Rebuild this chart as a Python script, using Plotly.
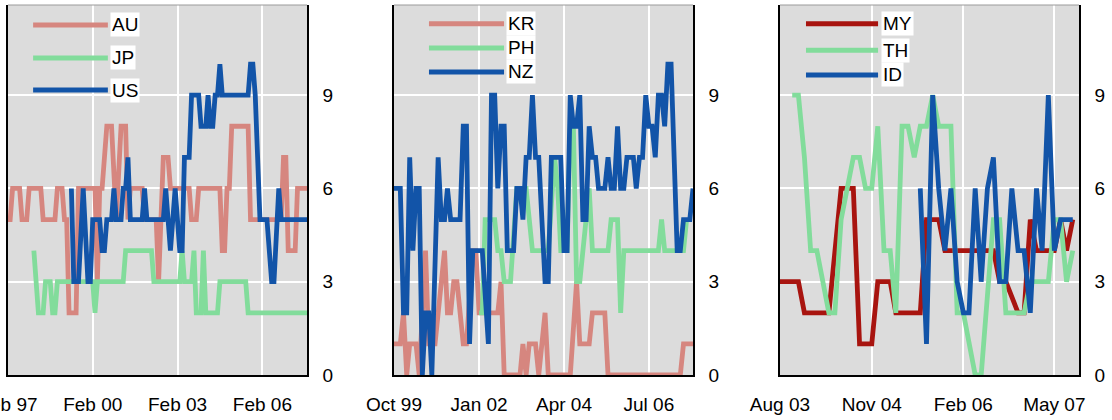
import plotly.graph_objects as go

# ---------------- Panel 1 ----------------
au_dates = ["1997-02", "1997-03", "1997-04", "1997-07", "1997-08", "1997-10", "1997-11", "1998-04", "1998-05", "1998-10",
            "1998-11", "1999-01", "1999-02", "1999-03", "1999-04", "1999-07", "1999-08", "2000-03", "2000-04", "2000-05",
            "2000-06", "2000-08", "2000-10", "2000-12", "2001-02", "2001-04", "2001-05", "2001-06", "2001-11", "2001-12",
            "2002-05", "2002-06", "2002-08", "2002-10", "2002-11", "2003-07", "2003-08", "2003-10", "2003-11", "2004-08",
            "2004-09", "2004-10", "2004-11", "2004-12", "2005-01", "2005-08", "2005-09", "2006-10", "2006-11", "2006-12",
            "2007-01", "2007-04", "2007-05", "2007-09"]
au_vals = [5, 5, 6, 6, 5, 5, 6, 6, 5, 5,
           6, 6, 5, 5, 2, 2, 6, 6, 3, 6,
           6, 8, 8, 5, 8, 8, 5, 6, 6, 5,
           5, 3, 7, 7, 6, 6, 5, 5, 6, 6,
           4, 4, 6, 6, 8, 8, 5, 5, 7, 7,
           4, 4, 6, 6]

jp_dates = ["1998-01", "1998-02", "1998-03", "1998-05", "1998-06", "1998-08", "1998-09", "1998-10", "1998-11", "2000-02",
            "2000-03", "2000-04", "2001-03", "2001-04", "2002-03", "2002-04", "2003-03", "2003-04", "2003-05", "2003-08",
            "2003-09", "2003-10", "2003-12", "2004-01", "2004-02", "2004-07", "2004-08", "2005-07", "2005-08", "2007-09"]
jp_vals = [4, 3, 2, 2, 3, 3, 2, 2, 3, 3,
           2, 3, 3, 4, 4, 3, 3, 4, 3, 3,
           4, 2, 2, 4, 2, 2, 3, 3, 2, 2]

us_dates = ["1999-05", "1999-06", "1999-08", "1999-10", "1999-12", "2000-01", "2000-02", "2000-05", "2000-06", "2000-07",
            "2000-08", "2000-10", "2000-11", "2000-12", "2001-02", "2001-03", "2001-04", "2001-05", "2001-06", "2001-11",
            "2001-12", "2002-01", "2002-08", "2002-09", "2002-11", "2003-01", "2003-03", "2003-04", "2003-05", "2003-07",
            "2003-08", "2003-11", "2003-12", "2004-02", "2004-03", "2004-04", "2004-05", "2004-06", "2004-07", "2004-08",
            "2004-09", "2005-08", "2005-09", "2005-10", "2005-11", "2006-01", "2006-04", "2006-06", "2006-07", "2006-09",
            "2006-10", "2007-09"]
us_vals = [6, 3, 3, 6, 3, 3, 5, 5, 4, 4,
           5, 5, 6, 5, 5, 6, 6, 7, 5, 5,
           6, 5, 5, 6, 4, 6, 4, 4, 7, 7,
           9, 9, 8, 8, 9, 8, 8, 9, 9, 10,
           9, 9, 10, 10, 9, 5, 5, 3, 3, 6,
           5, 5]

# ---------------- Panel 2 ----------------
kr_dates = ["1999-10", "1999-12", "2000-01", "2000-02", "2000-03", "2000-05", "2000-06", "2000-08", "2000-09", "2000-11",
            "2001-02", "2001-03", "2001-04", "2001-05", "2001-06", "2001-08", "2001-09", "2001-11", "2001-12", "2002-01",
            "2002-07", "2002-08", "2002-09", "2003-02", "2003-03", "2003-04", "2003-05", "2003-07", "2003-08", "2003-10",
            "2003-11", "2004-06", "2004-08", "2004-09", "2004-12", "2005-01", "2005-05", "2005-06", "2007-05", "2007-06",
            "2007-09"]
kr_vals = [1, 1, 2, 0, 1, 1, 0, 4, 1, 1,
           4, 2, 2, 3, 3, 1, 1, 4, 4, 2,
           2, 3, 0, 0, 1, 0, 1, 1, 0, 2,
           0, 0, 3, 1, 1, 2, 2, 0, 0, 1,
           1]

ph_dates = ["2002-01", "2002-02", "2002-03", "2002-06", "2002-07", "2002-08", "2002-09", "2002-11", "2003-01", "2003-04",
            "2003-06", "2003-11", "2004-01", "2004-02", "2004-03", "2004-05", "2004-06", "2004-07", "2004-08", "2004-09",
            "2004-12", "2005-01", "2005-06", "2005-07", "2005-09", "2005-10", "2005-11", "2006-10", "2006-11", "2006-12",
            "2007-06", "2007-07"]
ph_vals = [2, 2, 5, 5, 4, 4, 3, 3, 6, 6,
           4, 4, 7, 6, 4, 4, 8, 8, 3, 3,
           6, 4, 4, 5, 5, 2, 4, 4, 5, 4,
           4, 5]

nz_dates = ["1999-10", "1999-12", "2000-01", "2000-02", "2000-03", "2000-04", "2000-05", "2000-06", "2000-07", "2000-08",
            "2000-09", "2000-10", "2000-12", "2001-01", "2001-02", "2001-03", "2001-04", "2001-07", "2001-08", "2001-09",
            "2001-10", "2001-11", "2002-02", "2002-04", "2002-05", "2002-06", "2002-07", "2002-08", "2002-09", "2002-10",
            "2002-12", "2003-01", "2003-02", "2003-03", "2003-04", "2003-05", "2003-06", "2003-07", "2003-08", "2003-10",
            "2003-11", "2003-12", "2004-03", "2004-04", "2004-05", "2004-06", "2004-07", "2004-08", "2004-09", "2004-10",
            "2004-11", "2004-12", "2005-01", "2005-02", "2005-03", "2005-05", "2005-06", "2005-07", "2005-08", "2005-09",
            "2005-10", "2005-11", "2005-12", "2006-02", "2006-03", "2006-04", "2006-05", "2006-06", "2006-07", "2006-08",
            "2006-09", "2006-10", "2006-11", "2006-12", "2007-01", "2007-02", "2007-04", "2007-05", "2007-06", "2007-08",
            "2007-09"]
nz_vals = [6, 6, 2, 2, 7, 4, 6, 6, 0, 2,
           2, 0, 7, 5, 5, 6, 5, 5, 8, 8,
           1, 4, 4, 1, 9, 9, 6, 8, 8, 4,
           4, 6, 6, 5, 7, 7, 9, 7, 7, 3,
           3, 7, 7, 4, 4, 9, 8, 8, 9, 5,
           5, 8, 7, 7, 6, 6, 7, 6, 6, 8,
           6, 6, 7, 7, 6, 7, 7, 9, 8, 8,
           7, 9, 9, 8, 10, 10, 4, 4, 5, 5,
           6]

# ---------------- Panel 3 ----------------
my_dates = ["2003-08", "2003-11", "2003-12", "2004-04", "2004-06", "2004-08", "2004-09", "2004-11", "2004-12", "2005-02",
            "2005-03", "2005-07", "2005-08", "2005-10", "2005-11", "2006-07", "2006-08", "2006-09", "2006-11", "2006-12",
            "2007-01", "2007-02", "2007-05", "2007-06", "2007-07", "2007-08"]
my_vals = [3, 3, 2, 2, 6, 6, 1, 1, 3, 3,
           2, 2, 5, 5, 4, 4, 3, 3, 2, 2,
           5, 4, 4, 5, 4, 5]

th_dates = ["2003-10", "2003-11", "2003-12", "2004-01", "2004-02", "2004-03", "2004-04", "2004-05", "2004-06", "2004-08",
            "2004-09", "2004-10", "2004-11", "2004-12", "2005-01", "2005-02", "2005-03", "2005-04", "2005-05", "2005-06",
            "2005-07", "2005-08", "2005-09", "2005-10", "2005-12", "2006-01", "2006-02", "2006-04", "2006-05", "2006-07",
            "2006-08", "2006-09", "2006-12", "2007-01", "2007-04", "2007-05", "2007-06", "2007-07", "2007-08"]
th_vals = [9, 9, 7, 4, 4, 3, 2, 2, 5, 7,
           7, 6, 6, 8, 4, 4, 2, 8, 8, 7,
           8, 8, 9, 8, 8, 2, 2, 0, 0, 5,
           5, 2, 2, 3, 3, 5, 5, 3, 4]

id_dates = ["2005-07", "2005-08", "2005-09", "2005-10", "2005-11", "2005-12", "2006-01", "2006-02", "2006-03", "2006-04",
            "2006-05", "2006-06", "2006-07", "2006-08", "2006-09", "2006-10", "2006-11", "2006-12", "2007-01", "2007-02",
            "2007-03", "2007-04", "2007-05", "2007-06", "2007-08"]
id_vals = [6, 1, 9, 6, 4, 6, 3, 2, 2, 6,
           3, 6, 7, 3, 3, 6, 4, 4, 2, 6,
           4, 9, 4, 5, 5]

# ---------------- Axis ticks ----------------
p1_range = ["1997-02-01", "2007-09-01"]
p1_tickvals = ["1997-02-01", "2000-02-01", "2003-02-01", "2006-02-01"]
p1_ticktext = ["Feb 97", "Feb 00", "Feb 03", "Feb 06"]
p2_range = ["1999-10-01", "2007-09-01"]
p2_tickvals = ["1999-10-01", "2002-01-01", "2004-04-01", "2006-07-01"]
p2_ticktext = ["Oct 99", "Jan 02", "Apr 04", "Jul 06"]
p3_range = ["2003-08-01", "2007-09-01"]
p3_tickvals = ["2003-08-01", "2004-11-01", "2006-02-01", "2007-05-01"]
p3_ticktext = ["Aug 03", "Nov 04", "Feb 06", "May 07"]
y_tickvals = [0, 3, 6, 9]
y_range = [0, 11.9]

PINK = "#D6867F"
GREEN = "#82DC9B"
BLUE = "#1254A8"
DARKRED = "#A8140F"
FONT = "Liberation Sans, Arial, Helvetica, sans-serif"

panels = [
    dict(series=[("AU", au_dates, au_vals, PINK), ("JP", jp_dates, jp_vals, GREEN), ("US", us_dates, us_vals, BLUE)],
         rng=p1_range, tv=p1_tickvals, tt=p1_ticktext, dom=[0.0, 0.2792],
         leg_x0=0.084, leg_x1=0.334, leg_tx=0.341, leg_y=[0.946, 0.857, 0.770]),
    dict(series=[("KR", kr_dates, kr_vals, PINK), ("PH", ph_dates, ph_vals, GREEN), ("NZ", nz_dates, nz_vals, BLUE)],
         rng=p2_range, tv=p2_tickvals, tt=p2_ticktext, dom=[0.3604, 0.6396],
         leg_x0=0.117, leg_x1=0.368, leg_tx=0.376, leg_y=[0.949, 0.884, 0.819]),
    dict(series=[("MY", my_dates, my_vals, DARKRED), ("TH", th_dates, th_vals, GREEN), ("ID", id_dates, id_vals, BLUE)],
         rng=p3_range, tv=p3_tickvals, tt=p3_ticktext, dom=[0.7208, 1.0],
         leg_x0=0.087, leg_x1=0.328, leg_tx=0.339, leg_y=[0.949, 0.878, 0.811]),
]

fig = go.Figure()
shapes = []
annotations = []
layout_axes = {}
for i, p in enumerate(panels, start=1):
    xa = "x" if i == 1 else f"x{i}"
    ya = "y" if i == 1 else f"y{i}"
    for name, d, v, col in p["series"]:
        fig.add_trace(go.Scatter(x=d, y=v, mode="lines", name=name, showlegend=False,
                                 line=dict(color=col, width=4.8), xaxis=xa, yaxis=ya,
                                 hoverinfo="skip"))
    xkey = "xaxis" if i == 1 else f"xaxis{i}"
    ykey = "yaxis" if i == 1 else f"yaxis{i}"
    layout_axes[xkey] = dict(type="date", domain=p["dom"], range=p["rng"], anchor=ya,
                             tickvals=p["tv"], ticktext=p["tt"], showgrid=True, gridcolor="white",
                             gridwidth=1.5, showline=True, linecolor="black", linewidth=1.5,
                             mirror=False, ticks="outside", ticklen=11, tickcolor="rgba(0,0,0,0)",
                             tickfont=dict(size=19, color="black", family=FONT),
                             ticklabeloverflow="allow", automargin=False,
                             zeroline=False, fixedrange=True)
    layout_axes[ykey] = dict(domain=[0, 1], range=y_range, anchor=xa, side="right",
                             tickvals=y_tickvals, showgrid=True, gridcolor="white", gridwidth=1.5,
                             showline=True, linecolor="black", linewidth=1.5, mirror=True,
                             ticks="outside", ticklen=10, tickcolor="rgba(0,0,0,0)",
                             tickfont=dict(size=19, color="black", family=FONT),
                             automargin=False, zeroline=False, fixedrange=True)
    # top border
    shapes.append(dict(type="line", xref=f"{xa} domain", yref=f"{ya} domain", x0=0, x1=1, y0=1, y1=1,
                       line=dict(color="#9a9a9a", width=1), layer="above"))
    # legend
    for (name, d, v, col), ly in zip(p["series"], p["leg_y"]):
        shapes.append(dict(type="line", xref=f"{xa} domain", yref=f"{ya} domain",
                           x0=p["leg_x0"], x1=p["leg_x1"], y0=ly, y1=ly,
                           line=dict(color=col, width=5), layer="above"))
        annotations.append(dict(xref=f"{xa} domain", yref=f"{ya} domain", x=p["leg_tx"], y=ly,
                                text=name, showarrow=False, xanchor="left", yanchor="middle",
                                bgcolor="white", borderpad=1,
                                font=dict(size=19, color="black", family=FONT)))

fig.update_layout(
    width=1112, height=420,
    margin=dict(l=8, r=33, t=5, b=45, autoexpand=False),
    paper_bgcolor="white", plot_bgcolor="#DCDCDC",
    font=dict(family=FONT, size=19, color="black"),
    shapes=shapes, annotations=annotations, showlegend=False,
    **layout_axes,
)

fig.write_html("out.html", config={"displayModeBar": False},
               post_script="document.body.style.margin='0';")
